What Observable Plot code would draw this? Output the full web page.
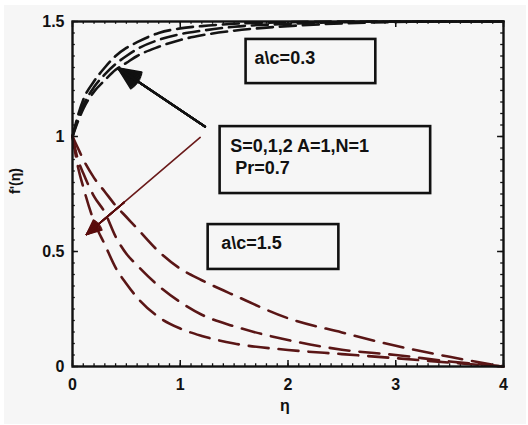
<!DOCTYPE html>
<html>
<head>
<meta charset="utf-8">
<script src="https://cdn.jsdelivr.net/npm/d3@7"></script>
<script src="https://cdn.jsdelivr.net/npm/@observablehq/plot@0.6"></script>
<style>
  html, body { margin: 0; padding: 0; background: #ffffff; }
  #chart { position: absolute; left: 4px; top: 5px; }
  #chart svg { display: block; }
</style>
</head>
<body>
<div id="chart"></div>
<script>
const eta = [0, 0.05, 0.1, 0.2, 0.3, 0.4, 0.5, 0.6, 0.8, 1.0, 1.2, 1.5, 2.0, 2.5, 3.0, 3.5, 4.0];

// a\c = 0.3 (black, rising) for S = 0, 1, 2
const upperA = [1, 1.09, 1.16, 1.24, 1.30, 1.35, 1.385, 1.41, 1.45, 1.47, 1.48, 1.49, 1.497, 1.5, 1.5, 1.5, 1.5];
const upperB = [1, 1.075, 1.135, 1.215, 1.27, 1.315, 1.35, 1.38, 1.42, 1.445, 1.46, 1.477, 1.49, 1.497, 1.5, 1.5, 1.5];
const upperC = [1, 1.065, 1.12, 1.195, 1.245, 1.29, 1.32, 1.35, 1.39, 1.42, 1.44, 1.46, 1.48, 1.492, 1.498, 1.5, 1.5];

// a\c = 1.5 (dark red, falling) for S = 0, 1, 2
const lowerA = [1, 0.95, 0.90, 0.82, 0.76, 0.70, 0.65, 0.60, 0.50, 0.425, 0.375, 0.31, 0.21, 0.148, 0.09, 0.042, 0];
const lowerB = [1, 0.90, 0.84, 0.74, 0.67, 0.565, 0.49, 0.44, 0.35, 0.28, 0.225, 0.175, 0.115, 0.073, 0.05, 0.022, 0];
const lowerC = [1, 0.87, 0.78, 0.63, 0.53, 0.43, 0.36, 0.30, 0.215, 0.165, 0.133, 0.10, 0.072, 0.054, 0.036, 0.017, 0];

// tick labels
const xTicks = [0, 1, 2, 3, 4];
const yTicks = [0, 0.5, 1, 1.5];
const yTickLabels = ["0", "0.5", "1", "1.5"];

// annotation texts and boxes (data units)
const boxes = [
  {x1: 1.611, x2: 2.815, y1: 1.230, y2: 1.422},
  {x1: 1.370, x2: 3.324, y1: 0.752, y2: 1.043},
  {x1: 1.259, x2: 2.472, y1: 0.422, y2: 0.617}
];
const labels = [
  {x: 1.69, y: 1.339, text: "a\\c=0.3"},
  {x: 1.463, y: 0.957, text: "S=0,1,2 A=1,N=1"},
  {x: 1.51, y: 0.861, text: "Pr=0.7"},
  {x: 1.38, y: 0.535, text: "a\\c=1.5"}
];
const blackArrow = [{x1: 1.23, y1: 1.043, x2: 0.426, y2: 1.296}];
const redArrow = [{x1: 1.185, y1: 0.996, x2: 0.13, y2: 0.574}];

const series = [
  {name: "up S0", vals: upperA, group: "up"},
  {name: "up S1", vals: upperB, group: "up"},
  {name: "up S2", vals: upperC, group: "up"},
  {name: "low S0", vals: lowerA, group: "low"},
  {name: "low S1", vals: lowerB, group: "low"},
  {name: "low S2", vals: lowerC, group: "low"}
];
const rows = series.flatMap(s => s.vals.map((v, i) => ({eta: eta[i], f: v, name: s.name, group: s.group})));
const upRows = rows.filter(d => d.group === "up");
const lowRows = rows.filter(d => d.group === "low");

const xMinor = d3.range(0, 40.5, 1).map(d => d / 10);
const yMinor = d3.range(0, 30.5, 1).map(d => d / 20);

const headAngles = [8, 16, 24, 32, 40, 48];

const marks = [
  // minor & major inward ticks on all four sides
  Plot.ruleX(xMinor, {y1: 0, y2: 0.012, stroke: "#111", strokeWidth: 1.3}),
  Plot.ruleX(xMinor, {y1: 1.5, y2: 1.488, stroke: "#111", strokeWidth: 1.3}),
  Plot.ruleX(xTicks, {y1: 0, y2: 0.026, stroke: "#111", strokeWidth: 1.5}),
  Plot.ruleX(xTicks, {y1: 1.5, y2: 1.474, stroke: "#111", strokeWidth: 1.5}),
  Plot.ruleY(yMinor, {x1: 0, x2: 0.026, stroke: "#111", strokeWidth: 1.3}),
  Plot.ruleY(yMinor, {x1: 4, x2: 3.974, stroke: "#111", strokeWidth: 1.3}),
  Plot.ruleY(yTicks, {x1: 0, x2: 0.055, stroke: "#111", strokeWidth: 1.5}),
  Plot.ruleY(yTicks, {x1: 4, x2: 3.945, stroke: "#111", strokeWidth: 1.5}),

  // curves
  Plot.line(upRows, {x: "eta", y: "f", z: "name", stroke: "#141414", strokeWidth: 2.6,
    strokeDasharray: "16,7", curve: "monotone-x"}),
  Plot.line(lowRows, {x: "eta", y: "f", z: "name", stroke: "#5a1616", strokeWidth: 2.6,
    strokeDasharray: "20,10", curve: "monotone-x"}),

  // annotation boxes and text
  Plot.rect(boxes, {x1: "x1", x2: "x2", y1: "y1", y2: "y2", fill: "none", stroke: "#111", strokeWidth: 2.6}),
  Plot.text(labels, {x: "x", y: "y", text: "text", textAnchor: "start", fontSize: 18, fontWeight: "bold", fill: "#111"}),

  // arrows (head filled by stacking several head angles)
  ...headAngles.map(a => Plot.arrow(blackArrow, {x1: "x1", y1: "y1", x2: "x2", y2: "y2",
    stroke: "#111", strokeWidth: 2.2, headLength: 16, headAngle: a})),
  Plot.arrow(redArrow, {x1: "x1", y1: "y1", x2: "x2", y2: "y2",
    stroke: "#6a1a1a", strokeWidth: 1.6, headLength: 0.1, headAngle: 1}),
  ...headAngles.map(a => Plot.arrow(redArrow, {x1: "x1", y1: "y1", x2: "x2", y2: "y2",
    stroke: "#5a0c0c", strokeWidth: 1.6, headLength: 15, headAngle: a, insetStart: 100})),

  // frame
  Plot.frame({stroke: "#111", strokeWidth: 2.4}),

  // axes labels
  Plot.axisX(xTicks, {tickSize: 0, tickPadding: 12, fontSize: 16, fontWeight: "bold", label: null, fill: "#111"}),
  Plot.axisY(yTicks, {tickSize: 0, tickPadding: 8, fontSize: 16, fontWeight: "bold", label: null, fill: "#111",
    tickFormat: d => yTickLabels[yTicks.indexOf(d)]}),
  Plot.text(["η"], {frameAnchor: "bottom", dy: 44, dx: -3, fontSize: 16, fontWeight: "bold", fill: "#111"}),
  Plot.text(["f'(η)"], {frameAnchor: "left", dx: -57, rotate: -90, fontSize: 14, fontWeight: "bold", fill: "#111"})
];

const chart = Plot.plot({
  width: 522,
  height: 419,
  marginLeft: 68,
  marginRight: 23,
  marginTop: 16,
  marginBottom: 58,
  x: {domain: [0, 4]},
  y: {domain: [0, 1.5]},
  style: {background: "#f6f6f6", fontFamily: "'Liberation Sans', Arial, sans-serif", color: "#111", overflow: "visible"},
  marks
});
document.getElementById("chart").appendChild(chart);
</script>
</body>
</html>
